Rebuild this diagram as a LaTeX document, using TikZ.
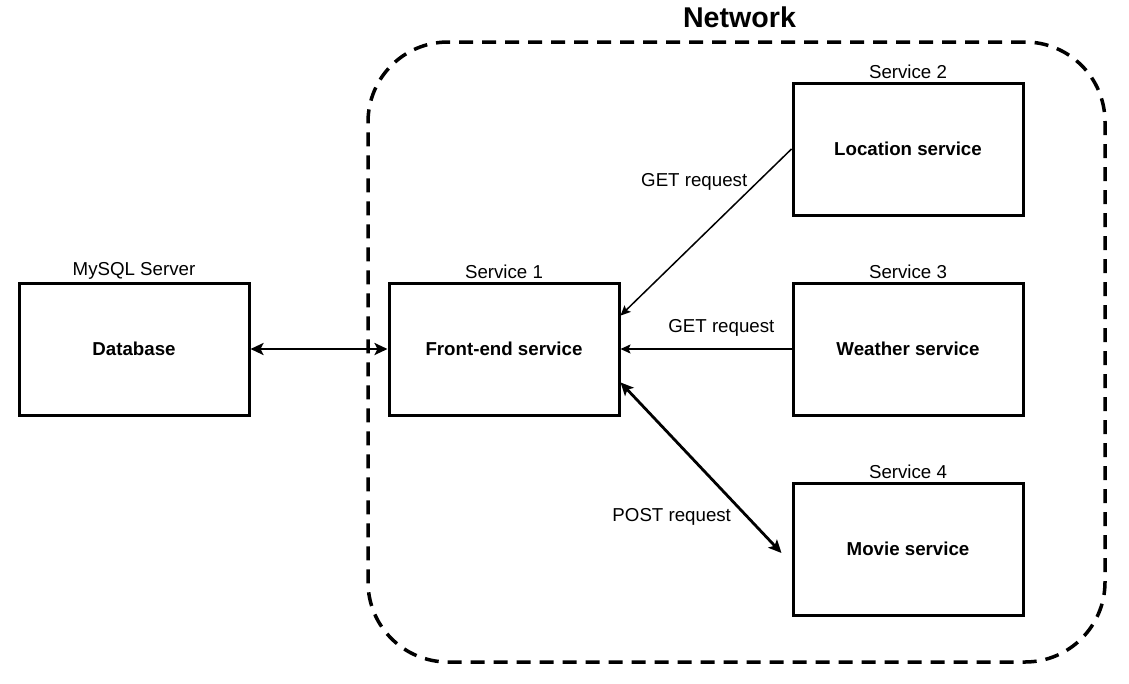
\documentclass[tikz,border=0pt]{standalone}
\usepackage{fontspec}
\setmainfont{Liberation Sans}
\usetikzlibrary{positioning,arrows.meta}

\begin{document}
\begin{tikzpicture}[x=1pt, y=-1pt,
                    every node/.append style = {font=\fontsize{18.7}{22}\selectfont},
                    service/.style = {draw, line width=3pt, minimum width=230pt, minimum height=132pt,
                                      text depth=0pt, font=\fontsize{18.7}{22}\selectfont\bfseries},
                    netframe/.style = {draw, line width=3.5pt, dash pattern=on 14pt off 9pt,
                                       rounded corners=80pt, minimum width=737pt, minimum height=620pt},
                    heavy/.style = {line width=2.8pt, >={Stealth[length=13pt,width=12pt,inset=3pt]}, <->},
                    light/.style = {line width=1.5pt, >={Stealth[length=10pt,width=9pt,inset=2pt]}, ->}]
                \useasboundingbox (0,0) rectangle (1129,683);
                \node[netframe] (net) at (736.5,352) {};
                \node[above=9pt of net, xshift=3pt, font=\fontsize{28.6}{34}\selectfont\bfseries] (netlbl) {Network};
                \node[service] (db) at (134,349) {Database};
                \node[service] (fe) at (504,349) {Front-end service};
                \node[service] (loc) at (908,149) {Location service};
                \node[service] (wea) at (908,349) {Weather service};
                \node[service] (mov) at (908,549) {Movie service};
                \node[above=-1pt of db] (dblbl) {MySQL Server};
                \node[above=-1pt of fe] (felbl) {Service 1};
                \node[above=-1pt of loc] (loclbl) {Service 2};
                \node[above=-1pt of wea] (wealbl) {Service 3};
                \node[above=-1pt of mov] (movlbl) {Service 4};
                \draw[heavy] (db) -- (fe);
                \draw[light] (loc.west) -- (fe.16) node[pos=0.2, left=6pt] {GET request};
                \draw[light] (wea) -- (fe) node[pos=0.41, above=9pt] {GET request};
                \draw[heavy] (fe.344) -- ([shift={(-10pt,-4pt)}]mov.west) node[pos=0.79, left=12pt] {POST request};
                \end{tikzpicture}
\end{document}
